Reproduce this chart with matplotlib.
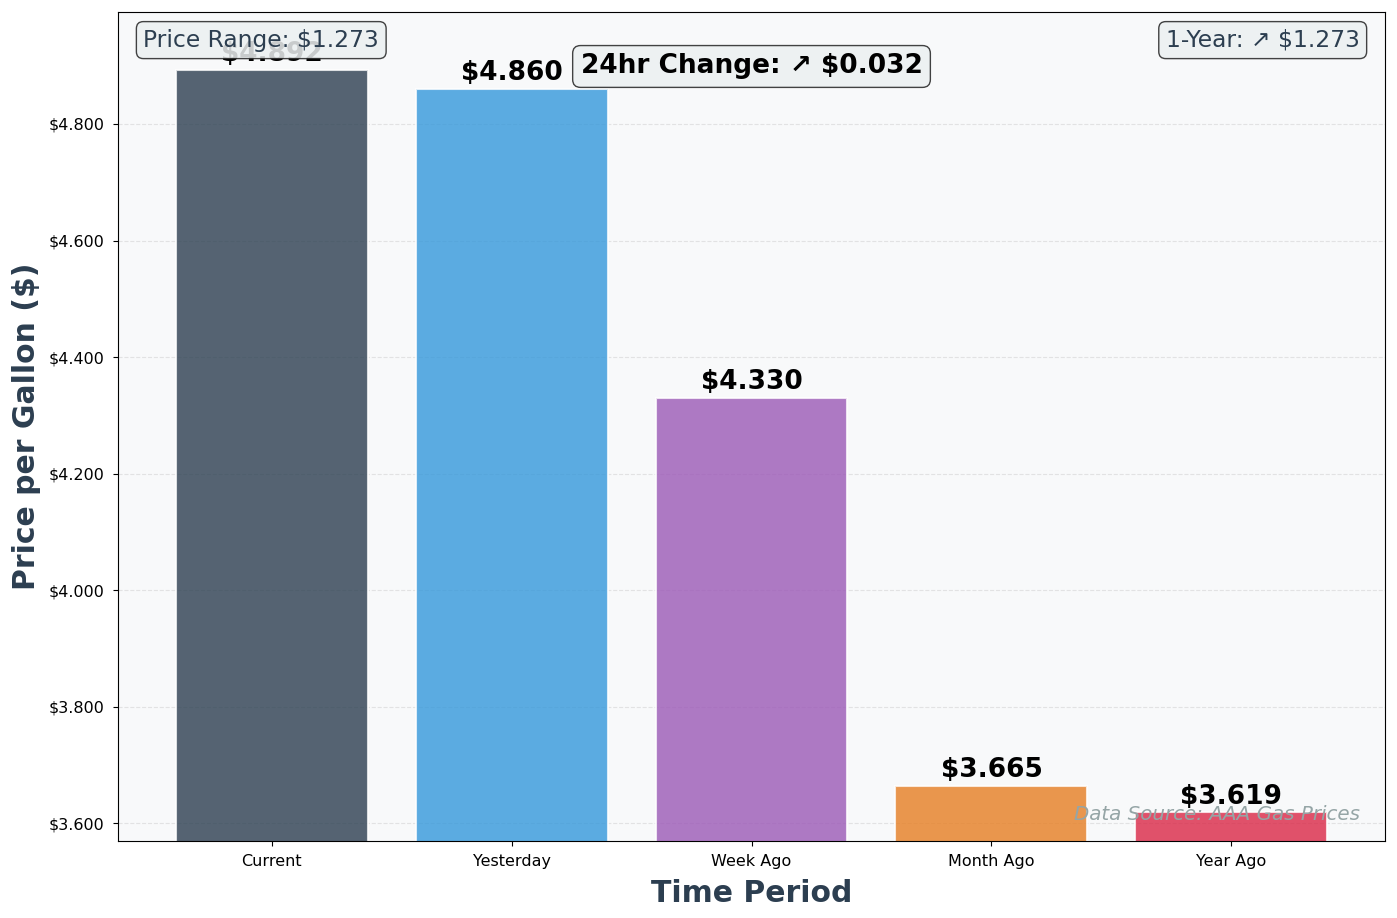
import matplotlib
matplotlib.use('Agg')
from matplotlib import pyplot as plt
import numpy as np

periods = ['Current', 'Yesterday', 'Week Ago', 'Month Ago', 'Year Ago']
prices = [4.892, 4.860, 4.330, 3.665, 3.619]
colors = ['#2c3e50', '#3498db', '#9b59b6', '#e67e22', '#da2746']

change_24h = prices[0] - prices[1]
change_1y = prices[0] - prices[4]
price_range = max(prices) - min(prices)

fig = plt.figure(figsize=(13.97, 9.18), dpi=100)
ax = fig.add_axes([0.0845, 0.0839, 0.9069, 0.903])
ax.set_facecolor('#f8f9fa')

x = np.arange(len(periods))
bars = ax.bar(x, prices, width=0.8, color=colors, alpha=0.8,
              edgecolor='white', linewidth=1.5, zorder=2)

for b, p in zip(bars, prices):
    ax.text(b.get_x() + b.get_width() / 2, p + 0.005, f'${p:.3f}',
            ha='center', va='bottom', fontsize=19, fontweight='bold', zorder=3)

ax.set_ylim(3.570, 4.992)
ax.set_xticks(x)
ax.set_xticklabels(periods, fontsize=11.5)
yt = [3.6, 3.8, 4.0, 4.2, 4.4, 4.6, 4.8]
ax.set_yticks(yt)
ax.set_yticklabels([f'${v:.3f}' for v in yt], fontsize=11.5)
ax.tick_params(axis='both', pad=6)
ax.yaxis.grid(True, linestyle='--', alpha=0.3, zorder=0)
ax.set_axisbelow(True)

ax.set_xlabel('Time Period', fontsize=21.5, fontweight='bold', color='#2c3e50', labelpad=7)
ax.set_ylabel('Price per Gallon ($)', fontsize=21.5, fontweight='bold', color='#2c3e50', labelpad=6)

box = dict(boxstyle='round,pad=0.3', facecolor='#ecf0f1', edgecolor='#222222', alpha=0.85)

ax.text(0.5, 0.95, f'24hr Change: \u2197 ${change_24h:.3f}', transform=ax.transAxes,
        ha='center', va='top', fontsize=19, fontweight='bold', bbox=box, zorder=5)
ax.text(0.02, 0.98, f'Price Range: ${price_range:.3f}', transform=ax.transAxes,
        ha='left', va='top', fontsize=16.8, color='#2c3e50', bbox=box, zorder=5)
ax.text(0.98, 0.98, f'1-Year: \u2197 ${change_1y:.3f}', transform=ax.transAxes,
        ha='right', va='top', fontsize=16.8, color='#2c3e50', bbox=box, zorder=5)
ax.text(0.98, 0.02, 'Data Source: AAA Gas Prices', transform=ax.transAxes,
        ha='right', va='bottom', fontsize=14.3, style='italic', color='#95a5a6', zorder=5)

fig.savefig('out.png', dpi=100)
